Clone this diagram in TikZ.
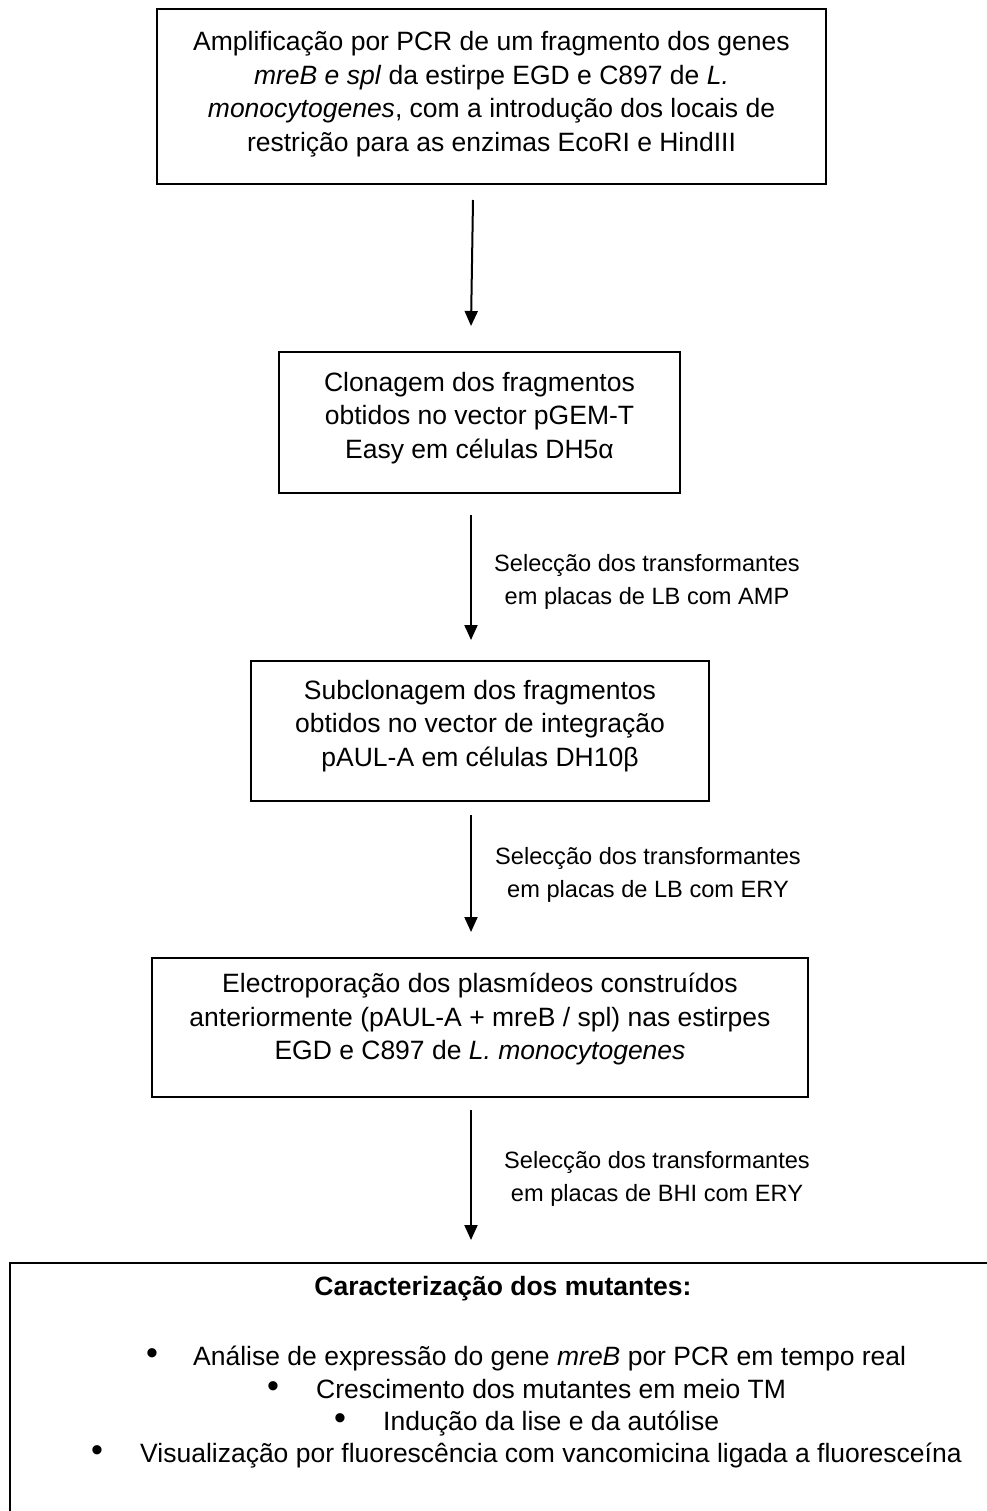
\documentclass[tikz,border=0pt]{standalone}
\usepackage{fontspec}
\setmainfont{Liberation Sans}
\usetikzlibrary{arrows.meta}
\begin{document}
\begin{tikzpicture}[x=1pt,y=-1pt,
  box/.style={draw,line width=1.6pt,inner sep=0pt,outer sep=0pt,anchor=north west},
  txt/.style={align=center,inner sep=0pt,font=\fontsize{26.5}{33.5}\selectfont},
  lab/.style={align=center,inner sep=0pt,font=\fontsize{23.6}{33}\selectfont},
  itm/.style={anchor=base west,inner sep=0pt,font=\fontsize{26.5}{32}\selectfont},
  bul/.style={anchor=center,inner sep=0pt,font=\fontsize{34}{34}\selectfont},
  arr/.style={line width=2pt,-{Triangle[width=13pt,length=15pt]}}]
\useasboundingbox (0,0) rectangle (986,1511);
% boxes
\node[box,minimum width=669pt,minimum height=175pt] (b1) at (157,9) {};
\node[box,minimum width=401pt,minimum height=141pt] (b2) at (279,352) {};
\node[box,minimum width=458pt,minimum height=140pt] (b3) at (251,661) {};
\node[box,minimum width=656pt,minimum height=139pt] (b4) at (152,958) {};
\node[box,minimum width=1000pt,minimum height=300pt] (b5) at (10,1263) {};
% texts
\node[txt] (t1) at (491.5,94) {Amplificação por PCR de um fragmento dos genes\\
\textit{mreB e spl} da estirpe EGD e C897 de \textit{L.}\\
\textit{monocytogenes}, com a introdução dos locais de\\
restrição para as enzimas EcoRI e HindIII};
\node[txt] (t2) at (479.5,418) {Clonagem dos fragmentos\\obtidos no vector pGEM-T\\Easy em células DH5α};
\node[txt] (t3) at (480,726) {Subclonagem dos fragmentos\\obtidos no vector de integração\\pAUL-A em células DH10β};
\node[txt] (t4) at (480,1019) {Electroporação dos plasmídeos construídos\\anteriormente (pAUL-A + mreB / spl) nas estirpes\\EGD e C897 de \textit{L. monocytogenes}};
% arrows
\draw[arr] ([xshift=-18.5pt,yshift=-16pt]b1.south) -- ([xshift=-8.5pt,yshift=26pt]b2.north);
\draw[arr] ([xshift=-8.5pt,yshift=-22pt]b2.south) -- ([xshift=-9pt,yshift=21pt]b3.north);
\draw[arr] ([xshift=-9pt,yshift=-14pt]b3.south) -- ([xshift=-9pt,yshift=26pt]b4.north);
\draw[arr] ([xshift=-9pt,yshift=-13pt]b4.south) -- ([xshift=-39pt,yshift=23pt]b5.north);
% arrow labels
\node[lab] (l2) at (647,582) {Selecção dos transformantes\\em placas de LB com AMP};
\node[lab] (l3) at (648,875) {Selecção dos transformantes\\em placas de LB com ERY};
\node[lab] (l4) at (657,1179) {Selecção dos transformantes\\em placas de BHI com ERY};
% bottom box contents
\node[inner sep=0pt,font=\bfseries\fontsize{26.5}{32}\selectfont] (t5) at (503,1289) {Caracterização dos mutantes:};
\node[bul] (k1) at (152,1357) {\textbullet};
\node[itm] (i1) at (193,1365) {Análise de expressão do gene \textit{mreB} por PCR em tempo real};
\node[bul] (k2) at (273,1390) {\textbullet};
\node[itm] (i2) at (316,1398) {Crescimento dos mutantes em meio TM};
\node[bul] (k3) at (340,1422) {\textbullet};
\node[itm] (i3) at (383,1430) {Indução da lise e da autólise};
\node[bul] (k4) at (97,1454) {\textbullet};
\node[itm] (i4) at (140,1462) {Visualização por fluorescência com vancomicina ligada a fluoresceína};
\end{tikzpicture}
\end{document}
